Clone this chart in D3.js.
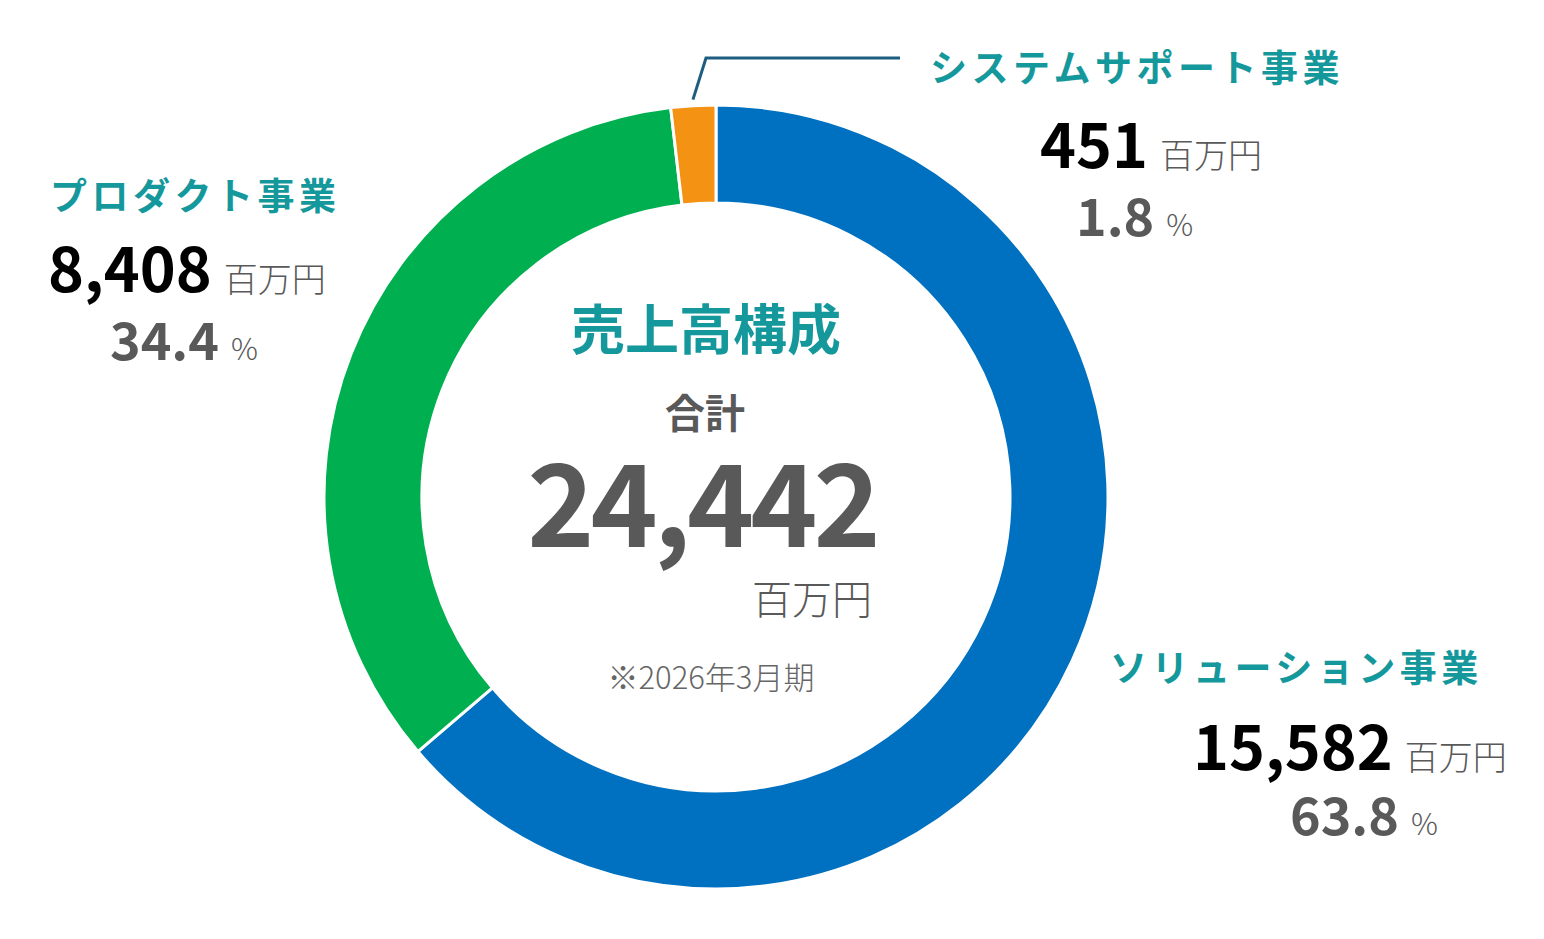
<!DOCTYPE html>
<html>
<head>
<meta charset="utf-8">
<script src="https://cdn.jsdelivr.net/npm/d3@7"></script>
<style>
  body { margin: 0; background: #fff; }
  text { font-family: "Noto Sans CJK JP", "Noto Sans", sans-serif; }
</style>
</head>
<body>
<div id="chart"></div>
<script>
// datos del grafico
var segmentos = ["ソリューション事業", "プロダクト事業", "システムサポート事業"];
var valores = [15582, 8408, 451];
var porcentajes = [63.8, 34.4, 1.8];
var colores = ["#0070c0", "#00b050", "#f39213"];
var total = 24442;
var titulo = "売上高構成";
var periodo = "※2026年3月期";
var unidad = "百万円";

var width = 1544, height = 939;
var cx = 716, cy = 497;
var rOut = 392, rIn = 294;

var teal = "#15989c";
var gris = "#595959";

var svg = d3.select("#chart").append("svg")
  .attr("width", width)
  .attr("height", height);

var pie = d3.pie().sort(null).value(function (d) { return d; });
var arc = d3.arc().innerRadius(rIn).outerRadius(rOut);

var g = svg.append("g").attr("transform", "translate(" + cx + "," + cy + ")");

g.selectAll("path")
  .data(pie(valores))
  .enter()
  .append("path")
  .attr("d", arc)
  .attr("fill", function (d, i) { return colores[i]; })
  .attr("stroke", "#fff")
  .attr("stroke-width", 3);

// linea guia para el segmento pequeño
var arcs = pie(valores);
var sp = arcs[2];
var mid = (sp.startAngle + sp.endAngle) / 2;
var p0 = [cx + Math.sin(mid) * (rOut + 6), cy - Math.cos(mid) * (rOut + 6)];
svg.append("polyline")
  .attr("points", [p0, [706, 58], [900, 58]].map(function (p) { return p.join(","); }).join(" "))
  .attr("fill", "none")
  .attr("stroke", "#1d5e80")
  .attr("stroke-width", 3);

// textos del centro
svg.append("text")
  .attr("x", 706).attr("y", 350)
  .attr("text-anchor", "middle")
  .attr("font-size", 54).attr("font-weight", 700)
  .attr("fill", teal)
  .text(titulo);

svg.append("text")
  .attr("x", 705).attr("y", 428)
  .attr("text-anchor", "middle")
  .attr("font-size", 40).attr("font-weight", 700)
  .attr("fill", gris)
  .text("合計");

svg.append("text")
  .attr("x", 702).attr("y", 547)
  .attr("text-anchor", "middle")
  .attr("font-size", 114).attr("font-weight", 700)
  .attr("letter-spacing", -4)
  .attr("fill", gris)
  .text(d3.format(",")(total));

svg.append("text")
  .attr("x", 872).attr("y", 614)
  .attr("text-anchor", "end")
  .attr("font-size", 40).attr("font-weight", 300)
  .attr("fill", gris)
  .text(unidad);

svg.append("text")
  .attr("x", 711).attr("y", 689)
  .attr("text-anchor", "middle")
  .attr("font-size", 31).attr("font-weight", 300)
  .attr("fill", "#666")
  .text(periodo);

// etiquetas de cada segmento
var etiquetas = [
  { tx: 1110, ty: 682, nx: 1193, ny: 770, px: 1290, py: 835 },
  { tx: 50, ty: 210, nx: 48, ny: 292, px: 110, py: 360 },
  { tx: 930, ty: 82, nx: 1040, ny: 168, px: 1076, py: 236 }
];

etiquetas.forEach(function (e, i) {
  svg.append("text")
    .attr("x", e.tx).attr("y", e.ty)
    .attr("font-size", 37).attr("font-weight", 700)
    .attr("letter-spacing", 4.5)
    .attr("fill", teal)
    .text(segmentos[i]);

  var t = svg.append("text").attr("x", e.nx).attr("y", e.ny);
  t.append("tspan")
    .attr("font-size", 61).attr("font-weight", 700)
    .attr("fill", "#000")
    .text(d3.format(",")(valores[i]));
  t.append("tspan")
    .attr("dx", 12)
    .attr("font-size", 34).attr("font-weight", 300)
    .attr("fill", gris)
    .text(unidad);

  var p = svg.append("text").attr("x", e.px).attr("y", e.py);
  p.append("tspan")
    .attr("font-size", 52).attr("font-weight", 700)
    .attr("fill", gris)
    .text(porcentajes[i].toFixed(1));
  p.append("tspan")
    .attr("dx", 12)
    .attr("font-size", 30).attr("font-weight", 300)
    .attr("fill", gris)
    .text("%");
});
</script>
</body>
</html>
